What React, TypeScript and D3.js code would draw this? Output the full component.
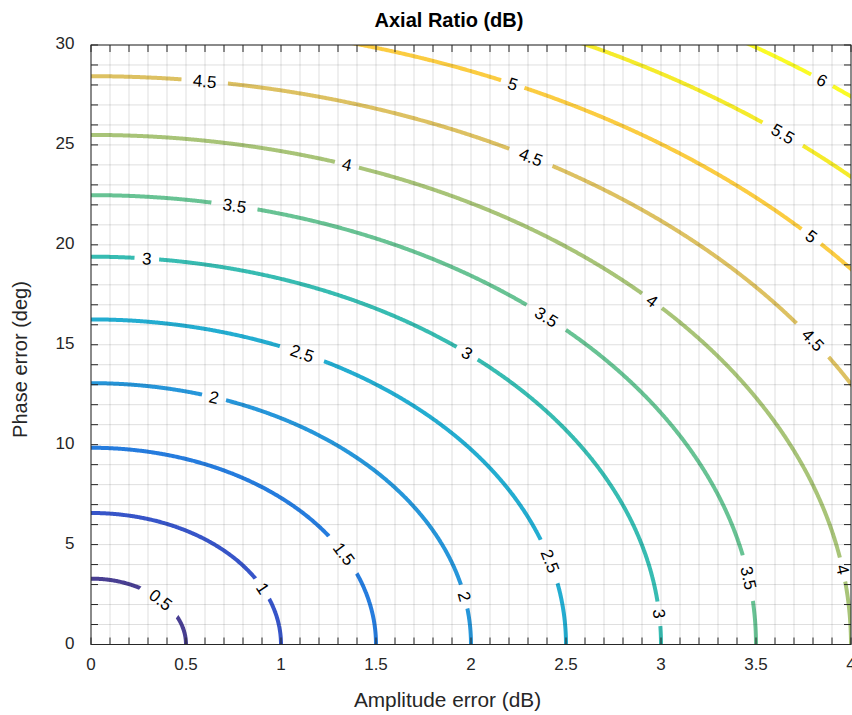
import React, { useMemo } from "react";
import * as d3 from "d3";

const W = 852;
const H = 715;
const PLOT = { left: 91, right: 851, top: 45, bottom: 644.5 };

// contour levels of the axial ratio (dB)
const LEVELS = [0.5, 1, 1.5, 2, 2.5, 3, 3.5, 4, 4.5, 5, 5.5, 6];
const X_TICKS = [0, 0.5, 1, 1.5, 2, 2.5, 3, 3.5, 4];
const Y_TICKS = [0, 5, 10, 15, 20, 25, 30];
const X_MINOR_STEP = 0.1;
const Y_MINOR_STEP = 1;

// where the inline labels sit: [level, amplitude dB, phase deg]
const LABELS: [number, number, number][] = [
  [0.5, 0.372, 2.31],
  [1, 0.916, 2.89],
  [1.5, 1.346, 4.64],
  [2, 0.653, 12.59],
  [2, 1.995, 2.48],
  [2.5, 1.117, 14.74],
  [2.5, 2.432, 4.23],
  [3, 0.295, 19.5],
  [3, 1.99, 14.74],
  [3, 3.01, 1.56],
  [3.5, 0.758, 22.15],
  [3.5, 2.405, 16.5],
  [3.5, 3.49, 3.39],
  [4, 1.353, 24.25],
  [4, 2.968, 17.4],
  [4, 3.98, 3.8],
  [4.5, 0.6, 28.34],
  [4.5, 2.32, 24.5],
  [4.5, 3.81, 15.34],
  [5, 2.23, 28.35],
  [5, 3.81, 20.66],
  [5.5, 3.653, 25.75],
  [6, 3.858, 28.42],
];

// parula-like colour ramp
const PARULA = [
  "#352a87", "#2b36aa", "#2043c6", "#0862dc", "#0e71d9", "#1281d6",
  "#0c8fd6", "#0c9ed3", "#0aa8c8", "#14b2b4", "#2cb7a2", "#47bd91",
  "#6cbe7e", "#91bf6e", "#b4bd60", "#d0bb56", "#f0b943", "#fcc32e",
  "#f7d623", "#f4e814", "#f7f50f", "#f9fb0e",
];
const parula = d3.piecewise(d3.interpolateRgb, PARULA);
const levelColor = d3
  .scaleLinear<number>()
  .domain([LEVELS[0], LEVELS[LEVELS.length - 1]])
  .range([0, 1]);

const axialRatioDb = (ampDb: number, phaseDeg: number) => {
  const r2 = Math.pow(10, -Math.abs(ampDb) / 10);
  const e = (Math.abs(phaseDeg) * Math.PI) / 180;
  const s = Math.sqrt(Math.max(0, 1 + r2 * r2 - 2 * r2 * Math.cos(2 * e)));
  const ar = Math.sqrt((1 + r2 + s) / (1 + r2 - s));
  return 20 * Math.log10(ar);
};

const FONT = "'Liberation Sans', Arial, Helvetica, sans-serif";
const INK = "#262626";
const LABEL_FS = 17;

const textWidth = (s: string, fs: number) =>
  s.split("").reduce((w, c) => w + (c === "." ? 0.278 : 0.556), 0) * fs;

const App = () => {
  const x = d3.scaleLinear().domain([0, 4]).range([PLOT.left, PLOT.right]);
  const y = d3.scaleLinear().domain([0, 30]).range([PLOT.bottom, PLOT.top]);

  const paths = useMemo(() => {
    const gx0 = -0.2, gx1 = 4.2, sx = 0.005;
    const gy0 = -2, gy1 = 32, sy = 0.04;
    const nx = Math.round((gx1 - gx0) / sx) + 1;
    const ny = Math.round((gy1 - gy0) / sy) + 1;
    const values = new Float64Array(nx * ny);
    for (let j = 0; j < ny; j++) {
      for (let i = 0; i < nx; i++) {
        values[j * nx + i] = axialRatioDb(gx0 + i * sx, gy0 + j * sy);
      }
    }
    const cs = d3.contours().size([nx, ny]).thresholds(LEVELS)(Array.from(values));
    return cs.map((c) => {
      let d = "";
      c.coordinates.forEach((poly) =>
        poly.forEach((ring) => {
          d +=
            "M" +
            ring
              .map(
                (p) =>
                  `${x(gx0 + (p[0] - 0.5) * sx).toFixed(2)},${y(
                    gy0 + (p[1] - 0.5) * sy
                  ).toFixed(2)}`
              )
              .join("L") +
            "Z";
        })
      );
      return { level: c.value, d };
    });
  }, []);

  const labels = useMemo(() => {
    const F = (px: number, py: number) => axialRatioDb(x.invert(px), y.invert(py));
    return LABELS.map(([level, ax, ay]) => {
      let px = x(ax), py = y(ay);
      let gx = 0, gy = 0;
      for (let k = 0; k < 6; k++) {
        gx = F(px + 0.5, py) - F(px - 0.5, py);
        gy = F(px, py + 0.5) - F(px, py - 0.5);
        const g2 = gx * gx + gy * gy;
        const diff = F(px, py) - level;
        px -= (diff * gx) / g2;
        py -= (diff * gy) / g2;
      }
      let ang = (Math.atan2(gx, -gy) * 180) / Math.PI;
      if (ang > 90) ang -= 180;
      if (ang <= -90) ang += 180;
      const text = String(level);
      const w = textWidth(text, LABEL_FS);
      return { level, px, py, ang, text, gap: 1.55 * w + 10 };
    });
  }, []);

  const xMinor = d3.range(0, 4 + 1e-9, X_MINOR_STEP);
  const yMinor = d3.range(0, 30 + 1e-9, Y_MINOR_STEP);
  const tickLen = 7;

  return (
    <svg
      width={W}
      height={H}
      style={{ position: "absolute", left: 0, top: 0, display: "block", background: "#fff" }}
      fontFamily={FONT}
    >
      <defs>
        <clipPath id="plotClip">
          <rect x={PLOT.left} y={PLOT.top} width={PLOT.right - PLOT.left} height={PLOT.bottom - PLOT.top} />
        </clipPath>
        <mask id="labelGaps" maskUnits="userSpaceOnUse" x={0} y={0} width={W} height={H}>
          <rect x={0} y={0} width={W} height={H} fill="white" />
          {labels.map((l, i) => (
            <rect
              key={i}
              x={-l.gap / 2}
              y={-10}
              width={l.gap}
              height={20}
              fill="black"
              transform={`translate(${l.px},${l.py}) rotate(${l.ang})`}
            />
          ))}
        </mask>
      </defs>

      <rect x={PLOT.left} y={PLOT.top} width={PLOT.right - PLOT.left} height={PLOT.bottom - PLOT.top} fill="#fff" />

      <g clipPath="url(#plotClip)">
        <g mask="url(#labelGaps)">
          {paths.map((p) => (
            <path
              key={p.level}
              d={p.d}
              fill="none"
              stroke={parula(levelColor(p.level))}
              strokeWidth={4}
              strokeOpacity={0.9}
              strokeLinejoin="round"
            />
          ))}
        </g>
      </g>

      {/* grid */}
      <g stroke={INK} strokeOpacity={0.15} strokeWidth={1}>
        {xMinor.map((v, i) => (
          <line key={"gx" + i} x1={x(v)} x2={x(v)} y1={PLOT.top} y2={PLOT.bottom} />
        ))}
        {yMinor.map((v, i) => (
          <line key={"gy" + i} x1={PLOT.left} x2={PLOT.right} y1={y(v)} y2={y(v)} />
        ))}
      </g>

      {/* ticks on all four sides */}
      <g stroke={INK} strokeWidth={1}>
        {xMinor.map((v, i) => (
          <g key={"tx" + i}>
            <line x1={x(v)} x2={x(v)} y1={PLOT.bottom} y2={PLOT.bottom - tickLen} />
            <line x1={x(v)} x2={x(v)} y1={PLOT.top} y2={PLOT.top + tickLen} />
          </g>
        ))}
        {yMinor.map((v, i) => (
          <g key={"ty" + i}>
            <line x1={PLOT.left} x2={PLOT.left + tickLen} y1={y(v)} y2={y(v)} />
            <line x1={PLOT.right} x2={PLOT.right - tickLen} y1={y(v)} y2={y(v)} />
          </g>
        ))}
      </g>

      <rect
        x={PLOT.left}
        y={PLOT.top}
        width={PLOT.right - PLOT.left}
        height={PLOT.bottom - PLOT.top}
        fill="none"
        stroke={INK}
        strokeWidth={1}
      />

      {/* contour labels */}
      <g fontSize={LABEL_FS} fill="#000" textAnchor="middle">
        {labels.map((l, i) => (
          <text key={i} transform={`translate(${l.px},${l.py}) rotate(${l.ang})`} dy="0.35em">
            {l.text}
          </text>
        ))}
      </g>

      {/* tick labels */}
      <g fontSize={17} fill={INK}>
        {X_TICKS.map((v) => (
          <text key={"xl" + v} x={x(v)} y={670} textAnchor="middle">
            {d3.format("~g")(v)}
          </text>
        ))}
        {Y_TICKS.map((v) => (
          <text key={"yl" + v} x={74.5} y={y(v) + 4} textAnchor="end">
            {v}
          </text>
        ))}
      </g>

      <text x={447.5} y={707} textAnchor="middle" fontSize={20.8} fill={INK}>
        Amplitude error (dB)
      </text>
      <text
        transform={`translate(26.5,359.5) rotate(-90)`}
        textAnchor="middle"
        fontSize={20}
        fill={INK}
      >
        Phase error (deg)
      </text>
      <text x={449} y={26.5} textAnchor="middle" fontSize={20} fontWeight="bold" fill="#000">
        Axial Ratio (dB)
      </text>
    </svg>
  );
};

export default App;
